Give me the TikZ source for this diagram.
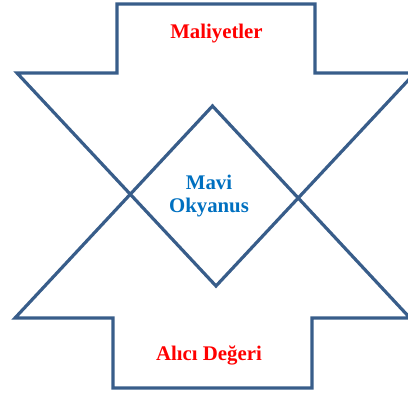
\documentclass[tikz,border=0pt]{standalone}
\usepackage{fontspec}
\setmainfont{Liberation Serif}
\usepackage{tikz}
\usetikzlibrary{positioning}
\definecolor{arrowblue}{RGB}{56,93,138}
\definecolor{oceanblue}{RGB}{0,112,192}
\definecolor{costred}{RGB}{255,0,0}

\begin{document}
\begin{tikzpicture}[x=0.75pt,y=-0.75pt,
    bigarrow/.style={line width=2.4pt,draw=arrowblue,line join=miter},
    label/.style={font=\fontsize{15.6}{17.3}\selectfont\bfseries,align=center,inner sep=0pt}]
      \useasboundingbox (0,0) rectangle (408,396);
      % Down arrow
      \draw[bigarrow] (117,4) -- (315,4) -- (315,73) -- (415,73) -- (216,286) -- (17,73) -- (117,73) -- cycle;
      \node[label,text=costred] (costs) at (216.5,34) {Maliyetler};
      % Up arrow
      \draw[bigarrow] (113,388) -- (312,388) -- (312,318) -- (410,318) -- (212.5,106) -- (15,318) -- (113,318) -- cycle;
      \node[label,text=costred] (value) at (209,355) {Alıcı Değeri};
      % Middle
      \node[label,text=oceanblue] (ocean) at (209,196) {Mavi\\Okyanus};
    \end{tikzpicture}
\end{document}
